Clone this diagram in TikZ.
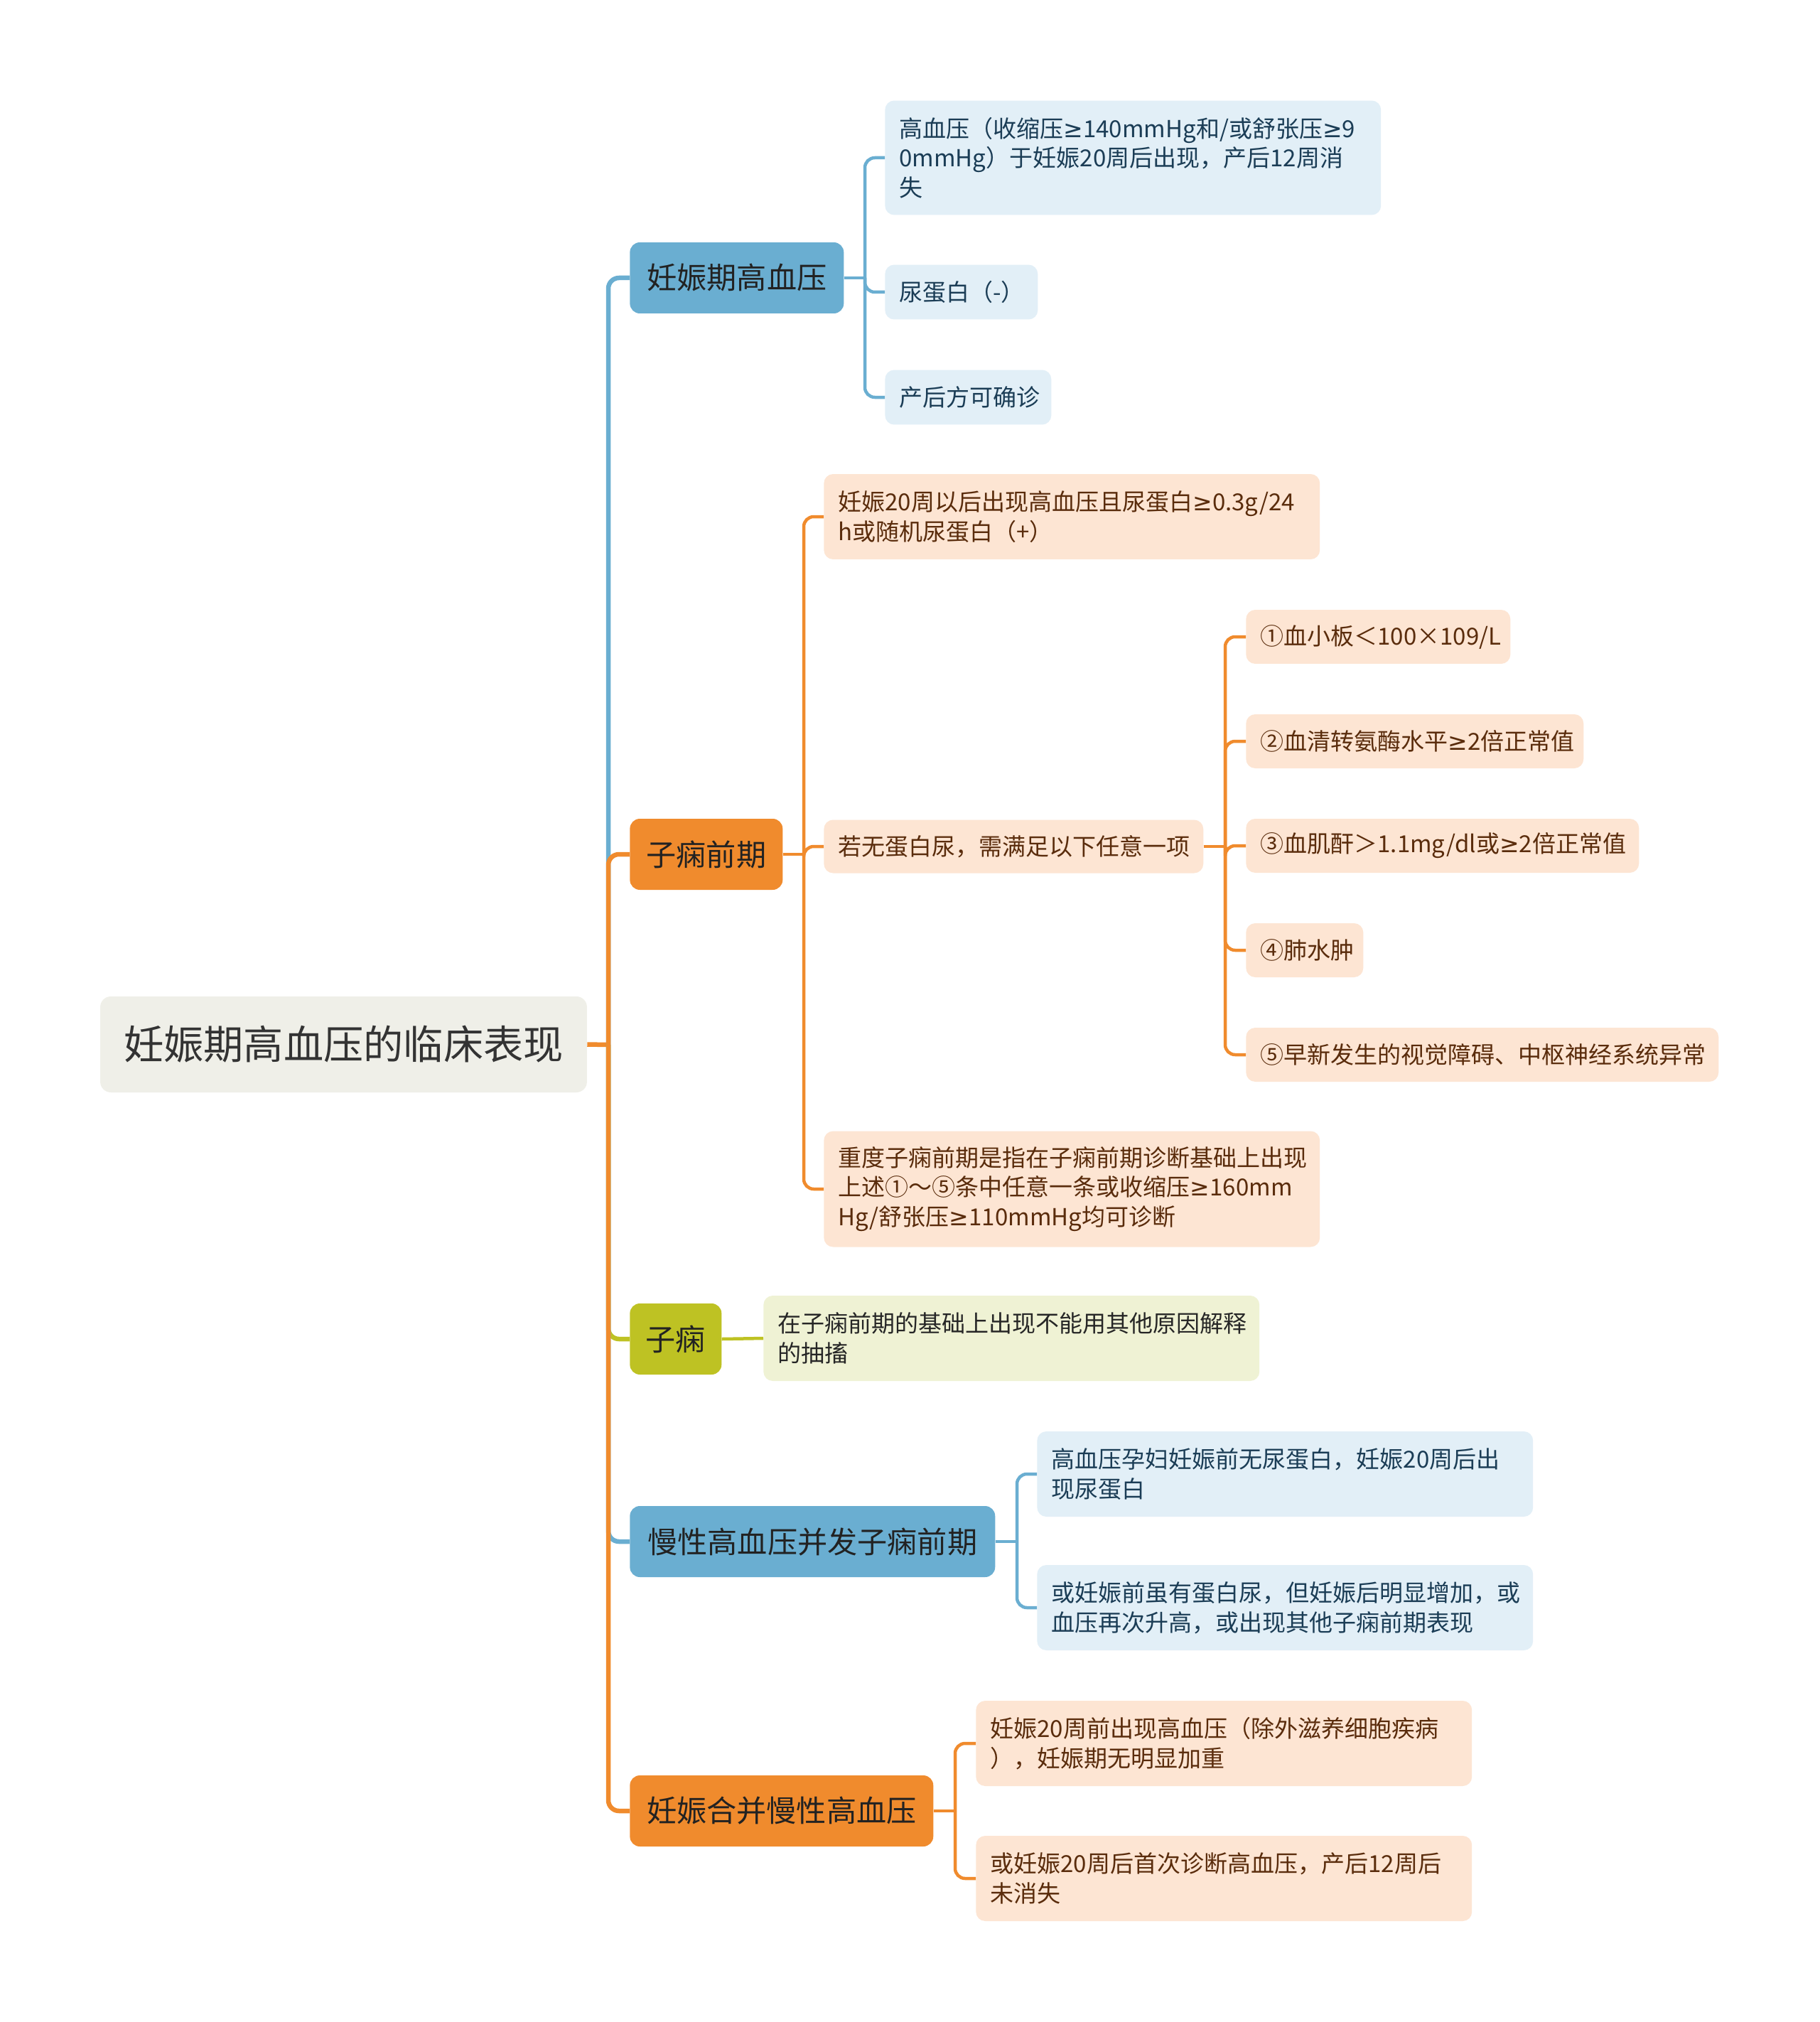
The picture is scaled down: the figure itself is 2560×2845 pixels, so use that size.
\documentclass[tikz,border=0pt]{standalone}
\usepackage{fontspec}
\setmainfont{Noto Sans CJK SC}
\newfontfamily\symf{DejaVu Sans}
\newcommand{\gte}{{\symf ≥}}
\usepackage{xcolor}
\usepackage{tikz}
\definecolor{rootfill}{HTML}{EFEFE8}
\definecolor{roottext}{HTML}{333333}
\definecolor{bluemain}{HTML}{6AAED1}
\definecolor{bluelight}{HTML}{E2EFF7}
\definecolor{bluetext}{HTML}{1B3D56}
\definecolor{orgmain}{HTML}{F08B2D}
\definecolor{orglight}{HTML}{FDE5D3}
\definecolor{orgtext}{HTML}{5A2C0C}
\definecolor{olvmain}{HTML}{BEC223}
\definecolor{olvlight}{HTML}{EFF2D4}
\definecolor{olvtext}{HTML}{262626}
\definecolor{darktext}{HTML}{222222}

\begin{document}
\begin{tikzpicture}[x=0.02cm, y=-0.02cm,
  rootbox/.style={fill=rootfill, text=roottext, rounded corners=0.3cm, minimum width=13.7cm, minimum height=2.7cm, font=\fontsize{32}{40}\selectfont},
  branchbox/.style={fill=#1, text=darktext, rounded corners=0.28cm, minimum height=2cm, anchor=west, font=\fontsize{24}{30}\selectfont},
  leafbox/.style={fill=#1, rounded corners=0.26cm, anchor=west, inner xsep=0.4cm, align=left, font=\fontsize{18.8}{23.7}\selectfont},
  trunk/.style={draw=#1, line width=0.13cm, rounded corners=0.3cm},
  twig/.style={draw=#1, line width=0.09cm, rounded corners=0.28cm}]
\useasboundingbox[fill=white] (0,0) rectangle (2560,2845);

% root and main branches
\node[rootbox] (root) at (483.5,1469.5) {妊娠期高血压的临床表现};
\node[branchbox=bluemain, minimum width=6.02cm] (gxy) at (886,391) {妊娠期高血压};
\node[branchbox=orgmain, minimum width=4.3cm] (zqq) at (886,1202) {子痫前期};
\node[branchbox=olvmain, minimum width=2.58cm] (zx) at (886,1884) {子痫};
\node[branchbox=bluemain, minimum width=10.28cm] (mxg) at (886,2169) {慢性高血压并发子痫前期};
\node[branchbox=orgmain, minimum width=8.54cm] (hbm) at (886,2548) {妊娠合并慢性高血压};

% 妊娠期高血压
\node[leafbox=bluelight, text=bluetext, text width=13.16cm, minimum height=3.22cm] (gxy1) at (1245,222) {高血压（收缩压\gte 140mmHg和/或舒张压\gte 9\\0mmHg）于妊娠20周后出现，产后12周消\\失};
\node[leafbox=bluelight, text=bluetext, text width=3.5cm, minimum height=1.54cm] (gxy2) at (1245,411) {\mbox{尿蛋白（-）}};
\node[leafbox=bluelight, text=bluetext, text width=3.88cm, minimum height=1.54cm] (gxy3) at (1245,559) {产后方可确诊};

% 子痫前期
\node[leafbox=orglight, text=orgtext, text width=13.16cm, minimum height=2.4cm] (zqq1) at (1159,727) {妊娠20周以后出现高血压且尿蛋白\gte 0.3g/24\\h或随机尿蛋白（+）};
\node[leafbox=orglight, text=orgtext, text width=9.88cm, minimum height=1.5cm] (zqq2) at (1159,1191) {若无蛋白尿，需满足以下任意一项};
\node[leafbox=orglight, text=orgtext, text width=13.16cm, minimum height=3.26cm] (zqq3) at (1159,1673) {重度子痫前期是指在子痫前期诊断基础上出现\\上述①～⑤条中任意一条或收缩压\gte 160mm\\Hg/舒张压\gte 110mmHg均可诊断};
\node[leafbox=orglight, text=orgtext, text width=6.64cm, minimum height=1.52cm] (bx1) at (1753,896) {①血小板＜100×109/L};
\node[leafbox=orglight, text=orgtext, text width=8.7cm, minimum height=1.52cm] (bx2) at (1753,1043) {②血清转氨酶水平\gte 2倍正常值};
\node[leafbox=orglight, text=orgtext, text width=10.26cm, minimum height=1.52cm] (bx3) at (1753,1190) {③血肌酐＞1.1mg/dl或\gte 2倍正常值};
\node[leafbox=orglight, text=orgtext, text width=2.5cm, minimum height=1.52cm] (bx4) at (1753,1337) {④肺水肿};
\node[leafbox=orglight, text=orgtext, text width=12.5cm, minimum height=1.52cm] (bx5) at (1753,1484) {⑤早新发生的视觉障碍、中枢神经系统异常};

% 子痫
\node[leafbox=olvlight, text=olvtext, text width=13.16cm, minimum height=2.4cm] (zx1) at (1074,1883) {在子痫前期的基础上出现不能用其他原因解释\\的抽搐};

% 慢性高血压并发子痫前期
\node[leafbox=bluelight, text=bluetext, text width=13.16cm, minimum height=2.4cm] (mxg1) at (1459,2074) {高血压孕妇妊娠前无尿蛋白，妊娠20周后出\\现尿蛋白};
\node[leafbox=bluelight, text=bluetext, text width=13.16cm, minimum height=2.4cm] (mxg2) at (1459,2262) {或妊娠前虽有蛋白尿，但妊娠后明显增加，或\\血压再次升高，或出现其他子痫前期表现};

% 妊娠合并慢性高血压
\node[leafbox=orglight, text=orgtext, text width=13.16cm, minimum height=2.4cm] (hbm1) at (1373,2453) {妊娠20周前出现高血压（除外滋养细胞疾病\\），妊娠期无明显加重};
\node[leafbox=orglight, text=orgtext, text width=13.16cm, minimum height=2.4cm] (hbm2) at (1373,2643) {或妊娠20周后首次诊断高血压，产后12周后\\未消失};

% junctions
\coordinate (t0) at (856,1470);
\coordinate (k1) at (1217,391);
\coordinate (k2) at (1131,1202);
\coordinate (k3) at (1724,1191);
\coordinate (k4) at (1431,2169);
\coordinate (k5) at (1344,2548);

% connectors
\draw[trunk=orgmain] (root.east) -- (t0);
\draw[trunk=bluemain] (t0) |- (gxy.west);
\draw[trunk=orgmain] (t0) |- (zqq.west);
\draw[trunk=olvmain] (t0) |- (zx.west);
\draw[trunk=bluemain] (t0) |- (mxg.west);
\draw[trunk=orgmain] (t0) |- (hbm.west);

\draw[twig=bluemain] (gxy.east) -- (k1);
\draw[twig=bluemain] (k1) |- (gxy1.west);
\draw[twig=bluemain] (k1) |- (gxy2.west);
\draw[twig=bluemain] (k1) |- (gxy3.west);

\draw[twig=orgmain] (zqq.east) -- (k2);
\draw[twig=orgmain] (k2) |- (zqq1.west);
\draw[twig=orgmain] (k2) |- (zqq2.west);
\draw[twig=orgmain] (k2) |- (zqq3.west);
\draw[twig=orgmain] (zqq2.east) -- (k3);
\draw[twig=orgmain] (k3) |- (bx1.west);
\draw[twig=orgmain] (k3) |- (bx2.west);
\draw[twig=orgmain] (k3) |- (bx3.west);
\draw[twig=orgmain] (k3) |- (bx4.west);
\draw[twig=orgmain] (k3) |- (bx5.west);

\draw[twig=olvmain] (zx.east) -- (zx1.west);

\draw[twig=bluemain] (mxg.east) -- (k4);
\draw[twig=bluemain] (k4) |- (mxg1.west);
\draw[twig=bluemain] (k4) |- (mxg2.west);

\draw[twig=orgmain] (hbm.east) -- (k5);
\draw[twig=orgmain] (k5) |- (hbm1.west);
\draw[twig=orgmain] (k5) |- (hbm2.west);
\end{tikzpicture}
\end{document}
